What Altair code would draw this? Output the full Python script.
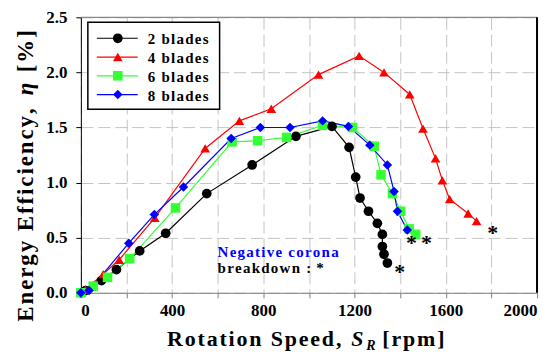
import altair as alt
import pandas as pd

# ---------------- data ----------------
series = ["2 blades", "4 blades", "6 blades", "8 blades"]
colors = ["#000000", "#ff0000", "#33ff33", "#0000ff"]
shapes = ["circle", "triangle-up", "square", "diamond"]
sizes = [95, 90, 75, 120]

rpm_2 = [0, 20, 90, 156, 258, 372, 552, 751, 943, 1101, 1176, 1205, 1224, 1261, 1300, 1322, 1322, 1329, 1344]
eta_2 = [0.0, 0.02, 0.11, 0.21, 0.38, 0.54, 0.90, 1.16, 1.42, 1.51, 1.32, 1.05, 0.86, 0.74, 0.63, 0.53, 0.42, 0.35, 0.27]

rpm_4 = [0, 20, 98, 168, 324, 545, 695, 835, 1042, 1220, 1329, 1442, 1500, 1555, 1585, 1617, 1698, 1735]
eta_4 = [0.0, 0.03, 0.17, 0.30, 0.68, 1.31, 1.56, 1.67, 1.98, 2.15, 2.00, 1.80, 1.49, 1.22, 1.02, 0.85, 0.72, 0.65]

rpm_6 = [0, 54, 117, 214, 415, 663, 775, 902, 1060, 1191, 1286, 1316, 1366, 1402, 1439, 1468]
eta_6 = [0.0, 0.06, 0.14, 0.31, 0.77, 1.37, 1.38, 1.41, 1.52, 1.50, 1.33, 1.07, 0.90, 0.74, 0.58, 0.53]

rpm_8 = [0, 36, 210, 322, 450, 659, 787, 917, 1060, 1173, 1267, 1344, 1373, 1388, 1431]
eta_8 = [0.0, 0.02, 0.45, 0.71, 0.96, 1.40, 1.50, 1.50, 1.56, 1.51, 1.34, 1.16, 0.92, 0.74, 0.57]

# corona breakdown markers (*)
break_rpm = [1398, 1806, 1515, 1450]
break_eta = [0.22, 0.57, 0.48, 0.48]

x_ticks = list(range(0, 2001, 200))
y_ticks = [0.0, 0.5, 1.0, 1.5, 2.0, 2.5]

# ---------------- tables ----------------
rows = []
for name, xs, ys in zip(series, [rpm_2, rpm_4, rpm_6, rpm_8], [eta_2, eta_4, eta_6, eta_8]):
    for i, (a, b) in enumerate(zip(xs, ys)):
        rows.append({"series": name, "rpm": a, "eta": b, "i": i})
df = pd.DataFrame(rows)
brk = pd.DataFrame({"series": series, "rpm": break_rpm, "eta": break_eta, "star": ["*"] * 4})

HS = "\u200a"


def spaced(s):
    return HS.join(s)


leg = pd.DataFrame({"series": series, "label": [spaced(s) for s in series]})

W, H = 457, 276
SERIF = "'Liberation Serif', 'Times New Roman', Times, serif"

color_enc = alt.Color("series:N", scale=alt.Scale(domain=series, range=colors), legend=None)
shape_enc = alt.Shape("series:N", scale=alt.Scale(domain=series, range=shapes), legend=None)
size_enc = alt.Size("series:N", scale=alt.Scale(domain=series, range=sizes), legend=None)

x_enc = alt.X("rpm:Q", scale=alt.Scale(domain=[0, 2000], nice=False),
              axis=alt.Axis(values=x_ticks, format="d", title=None, grid=True, domainColor="#808080",
                            tickColor="#808080", tickSize=5, labelPadding=5,
                            labelFont=SERIF, labelFontSize=17, labelFontWeight="bold",
                            labelColor="#000000", gridColor="#c4c4c4", gridDash=[12, 5]))
y_enc = alt.Y("eta:Q", scale=alt.Scale(domain=[0, 2.5], nice=False),
              axis=alt.Axis(values=y_ticks, format=".1f", title=None, grid=True,
                            domainColor="#000000", tickColor="#000000", tickSize=5,
                            labelPadding=9, labelFont=SERIF, labelFontSize=17,
                            labelFontWeight="bold", labelColor="#000000",
                            gridColor="#c4c4c4", gridDash=[12, 5]))

base = alt.Chart(df)
lines = base.mark_line(strokeWidth=1.2).encode(x=x_enc, y=y_enc, color=color_enc, detail="series:N",
                                               order="i:Q")
points = base.mark_point(filled=True, opacity=1, strokeWidth=0).encode(
    x="rpm:Q", y="eta:Q", color=color_enc, shape=shape_enc, size=size_enc)

stars = alt.Chart(brk).mark_text(font=SERIF, fontSize=22, fontWeight="bold", baseline="alphabetic",
                                 dy=10, color="#000000").encode(x="rpm:Q", y="eta:Q", text="star:N")

# frame: top (grey) and right (black)
top_rule = alt.Chart(pd.DataFrame({"a": [0]})).mark_rule(color="#888888", strokeWidth=1.3).encode(
    x=alt.value(0), x2=alt.value(W), y=alt.value(0))
right_rule = alt.Chart(pd.DataFrame({"a": [0]})).mark_rule(color="#000000", strokeWidth=2).encode(
    x=alt.value(W), y=alt.value(0), y2=alt.value(H))

# annotation
ann1 = alt.Chart(pd.DataFrame({"t": [spaced("Negative corona")]})).mark_text(
    font=SERIF, fontSize=15, fontWeight="bold", color="#0000ff", align="left", baseline="alphabetic"
).encode(text="t:N", x=alt.value(137), y=alt.value(240))
ann2 = alt.Chart(pd.DataFrame({"t": [spaced("breakdown : ") + "*"]})).mark_text(
    font=SERIF, fontSize=15, fontWeight="bold", color="#000000", align="left", baseline="alphabetic"
).encode(text="t:N", x=alt.value(137), y=alt.value(256))

# legend
leg_box = alt.Chart(pd.DataFrame({"a": [0]})).mark_rect(fill="#ffffff", stroke="#000000",
                                                        strokeWidth=1.5).encode(
    x=alt.value(7), x2=alt.value(139), y=alt.value(5), y2=alt.value(92))
leg_base = alt.Chart(leg).transform_window(idx="row_number()").transform_calculate(
    ly="2.2 + 18.8 * datum.idx")
leg_lines = leg_base.mark_rule(strokeWidth=1.2).encode(
    x=alt.value(16), x2=alt.value(57), y=alt.Y("ly:Q", scale=None, axis=None), color=color_enc)
leg_pts = leg_base.mark_point(filled=True, opacity=1, strokeWidth=0).encode(
    x=alt.value(37), y=alt.Y("ly:Q", scale=None, axis=None), color=color_enc, shape=shape_enc,
    size=size_enc)
leg_txt = leg_base.mark_text(font=SERIF, fontSize=15, fontWeight="bold", align="left",
                             baseline="middle", color="#000000", dy=1).encode(
    x=alt.value(67), y=alt.Y("ly:Q", scale=None, axis=None), text="label:N")

# axis titles built from pieces (italic symbol + subscript)
def txt(t, x, y, size=22, style="normal", align="left", angle=0):
    return alt.Chart(pd.DataFrame({"t": [t]})).mark_text(
        font=SERIF, fontSize=size, fontWeight="bold", fontStyle=style, align=align,
        baseline="alphabetic", angle=angle, color="#000000"
    ).encode(text="t:N", x=alt.value(x), y=alt.value(y))


xt1 = txt(spaced("Rotation Speed,"), 261, 329, align="right")
xt2 = txt("S", 271, 329, style="italic")
xt3 = txt("R", 286, 333, size=14, style="italic")
xt4 = txt(spaced("[rpm]"), 302, 329)

yt1 = txt(spaced("Energy Efficiency,"), -48, 305, size=23, angle=270)
yt2 = txt("η", -48, 78, size=23, style="italic", angle=270)
yt3 = txt(spaced("[%]"), -48, 55, size=23, angle=270)

chart = alt.layer(
    lines, points, stars, top_rule, right_rule, ann1, ann2,
    leg_box, leg_lines, leg_pts, leg_txt,
    xt1, xt2, xt3, xt4, yt1, yt2, yt3
).properties(
    width=W, height=H,
    autosize=alt.AutoSizeParams(type="none"),
    padding={"left": 73, "top": 9, "right": 10, "bottom": 62},
).configure_view(strokeWidth=0)

chart.save("out.html", embed_options={"renderer": "svg", "actions": False})
